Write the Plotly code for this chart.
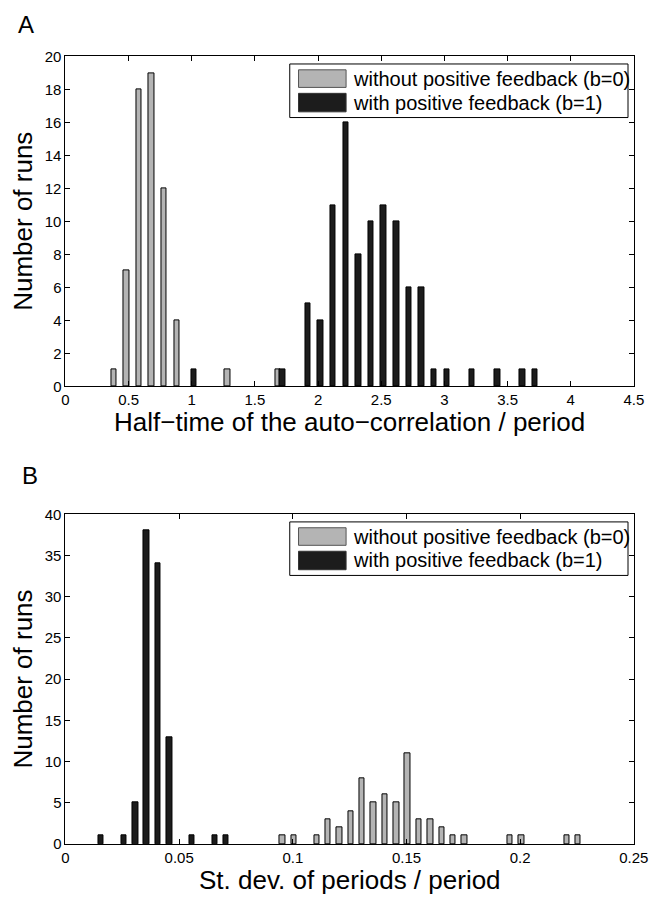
import plotly.graph_objects as go

# ---------------- data ----------------
# Panel A: half-time of auto-correlation / period (bin centres and counts)
a_gray_x = [0.382, 0.482, 0.582, 0.682, 0.782, 0.882, 1.282, 1.682]
a_gray_y = [1, 7, 18, 19, 12, 4, 1, 1]
a_black_x = [1.019, 1.719, 1.919, 2.019, 2.119, 2.219, 2.319, 2.419, 2.519,
             2.619, 2.719, 2.819, 2.919, 3.019, 3.219, 3.419, 3.619, 3.719]
a_black_y = [1, 1, 5, 4, 11, 16, 8, 10, 11, 10, 6, 6, 1, 1, 1, 1, 1, 1]

# Panel B: st. dev. of periods / period
b_gray_x = [0.0955, 0.1005, 0.1105, 0.1155, 0.1205, 0.1255, 0.1305, 0.1355,
            0.1405, 0.1455, 0.1505, 0.1555, 0.1605, 0.1655, 0.1705, 0.1755,
            0.1955, 0.2005, 0.2205, 0.2255]
b_gray_y = [1, 1, 1, 3, 2, 4, 8, 5, 6, 5, 11, 3, 3, 2, 1, 1, 1, 1, 1, 1]
b_black_x = [0.0157, 0.0257, 0.0307, 0.0357, 0.0407, 0.0457, 0.0557, 0.0657, 0.0707]
b_black_y = [1, 1, 5, 38, 34, 13, 1, 1, 1]

a_xticks = [0, 0.5, 1, 1.5, 2, 2.5, 3, 3.5, 4, 4.5]
a_xticklabels = ["0", "0.5", "1", "1.5", "2", "2.5", "3", "3.5", "4", "4.5"]
a_yticks = list(range(0, 21, 2))
b_xticks = [0, 0.05, 0.1, 0.15, 0.2, 0.25]
b_xticklabels = ["0", "0.05", "0.1", "0.15", "0.2", "0.25"]
b_yticks = list(range(0, 41, 5))

series_names = ["without positive feedback (b=0)", "with positive feedback (b=1)"]
GRAY = "#b4b4b4"
BLACK = "#1c1c1c"
FONT = "Liberation Sans, Arial, Helvetica, sans-serif"

W, H = 661, 906
fig = go.Figure()

fig.add_trace(go.Bar(x=a_gray_x, y=a_gray_y, width=0.043, marker=dict(color=GRAY, line=dict(color="black", width=1)),
                     xaxis="x", yaxis="y", showlegend=False, name=series_names[0]))
fig.add_trace(go.Bar(x=a_black_x, y=a_black_y, width=0.043, marker=dict(color=BLACK, line=dict(color="black", width=1)),
                     xaxis="x", yaxis="y", showlegend=False, name=series_names[1]))
fig.add_trace(go.Bar(x=b_gray_x, y=b_gray_y, width=0.0024, marker=dict(color=GRAY, line=dict(color="black", width=1)),
                     xaxis="x2", yaxis="y2", showlegend=False, name=series_names[0]))
fig.add_trace(go.Bar(x=b_black_x, y=b_black_y, width=0.0024, marker=dict(color=BLACK, line=dict(color="black", width=1)),
                     xaxis="x2", yaxis="y2", showlegend=False, name=series_names[1]))

xdom = [63.3 / W, 648.5 / W]
a_ydom = [1 - 384.6 / H, 1 - 48.3 / H]
b_ydom = [1 - 851 / H, 1 - 515 / H]

axis_common = dict(showline=True, linecolor="black", linewidth=1, mirror="ticks", ticks="inside",
                   ticklen=5, tickwidth=1, tickcolor="black", showgrid=False, zeroline=False,
                   tickfont=dict(family=FONT, size=15, color="black"))

fig.update_layout(
    width=W, height=H, margin=dict(l=0, r=0, t=0, b=0),
    paper_bgcolor="white", plot_bgcolor="white", barmode="overlay", bargap=0,
    xaxis=dict(domain=xdom, anchor="y", range=[0, 4.5], tickvals=a_xticks, ticktext=a_xticklabels, **axis_common),
    yaxis=dict(domain=a_ydom, anchor="x", range=[0, 20], tickvals=a_yticks, **axis_common),
    xaxis2=dict(domain=xdom, anchor="y2", range=[0, 0.25], tickvals=b_xticks, ticktext=b_xticklabels, **axis_common),
    yaxis2=dict(domain=b_ydom, anchor="x2", range=[0, 40], tickvals=b_yticks, **axis_common),
)

shapes = []
annotations = []
for xr, yr in (("x domain", "y domain"), ("x2 domain", "y2 domain")):
    # legend frame
    shapes.append(dict(type="rect", xref=xr, yref=yr, x0=0.3946, x1=0.9897, y0=0.8147, y1=0.977,
                       line=dict(color="black", width=1), fillcolor="white", layer="above"))
    # legend patches
    shapes.append(dict(type="rect", xref=xr, yref=yr, x0=0.410, x1=0.4937, y0=0.906, y1=0.9593,
                       line=dict(color="#555", width=1), fillcolor=GRAY, layer="above"))
    shapes.append(dict(type="rect", xref=xr, yref=yr, x0=0.410, x1=0.4937, y0=0.832, y1=0.888,
                       line=dict(color="#333", width=1), fillcolor=BLACK, layer="above"))
    annotations.append(dict(xref=xr, yref=yr, x=0.502, y=0.932, text=series_names[0], showarrow=False,
                            xanchor="left", yanchor="middle", font=dict(family=FONT, size=20, color="black")))
    annotations.append(dict(xref=xr, yref=yr, x=0.502, y=0.860, text=series_names[1], showarrow=False,
                            xanchor="left", yanchor="middle", font=dict(family=FONT, size=20, color="black")))

xc = (xdom[0] + xdom[1]) / 2
annotations += [
    dict(xref="paper", yref="paper", x=12 / W, y=1 - 16 / H, text="A", showarrow=False, xanchor="left",
         yanchor="middle", font=dict(family=FONT, size=24, color="black")),
    dict(xref="paper", yref="paper", x=16 / W, y=1 - 475 / H, text="B", showarrow=False, xanchor="left",
         yanchor="middle", font=dict(family=FONT, size=24, color="black")),
    dict(xref="paper", yref="paper", x=xc, y=1 - 421 / H, text="Half−time of the auto−correlation / period",
         showarrow=False, xanchor="center", yanchor="middle", font=dict(family=FONT, size=26, color="black")),
    dict(xref="paper", yref="paper", x=xc, y=1 - 888 / H, text="St. dev. of periods / period",
         showarrow=False, xanchor="center", yanchor="middle", font=dict(family=FONT, size=26, color="black")),
    dict(xref="paper", yref="paper", x=20 / W, y=(a_ydom[0] + a_ydom[1]) / 2, text="Number of runs", textangle=-90,
         showarrow=False, xanchor="center", yanchor="middle", font=dict(family=FONT, size=26, color="black")),
    dict(xref="paper", yref="paper", x=20 / W, y=(b_ydom[0] + b_ydom[1]) / 2, text="Number of runs", textangle=-90,
         showarrow=False, xanchor="center", yanchor="middle", font=dict(family=FONT, size=26, color="black")),
]
fig.update_layout(shapes=shapes, annotations=annotations)

fig.write_html("out.html")
